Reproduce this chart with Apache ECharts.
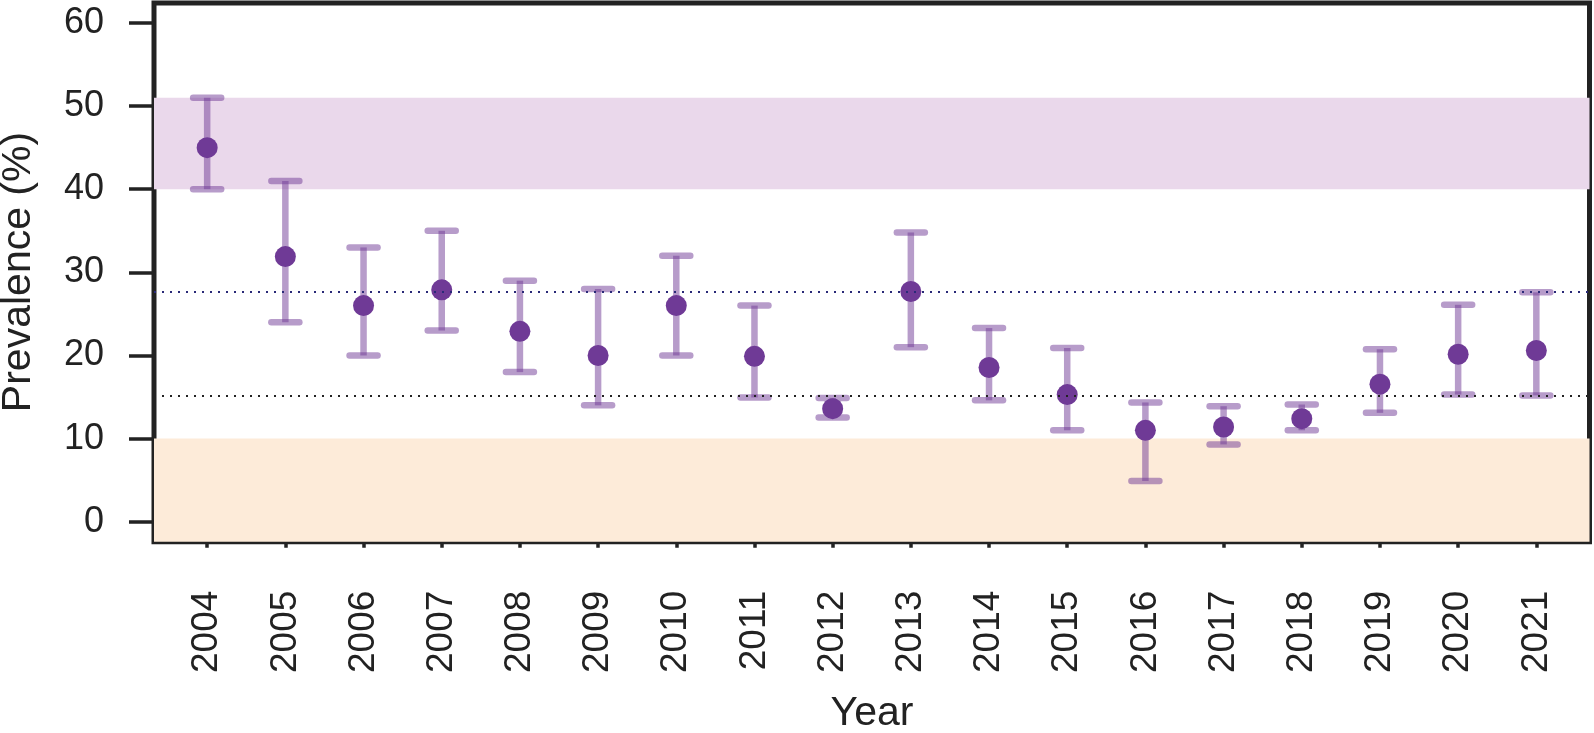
<!DOCTYPE html>
<html>
<head>
<meta charset="utf-8">
<script src="https://cdn.jsdelivr.net/npm/echarts@6/dist/echarts.min.js"></script>
<style>html,body{margin:0;padding:0;background:#fff;}#c{width:1594px;height:733px;}</style>
</head>
<body>
<div id="c"></div>
<script>
const years = [2004,2005,2006,2007,2008,2009,2010,2011,2012,2013,2014,2015,2016,2017,2018,2019,2020,2021];
const estimate = [45.0,31.9,26.0,27.9,22.9,20.0,26.0,19.9,13.6,27.7,18.55,15.3,11.0,11.4,12.4,16.55,20.15,20.6];
const lower = [40.0,24.0,20.0,23.0,18.0,14.0,20.0,14.95,12.55,21.0,14.6,11.0,4.9,9.3,11.0,13.1,15.3,15.2];
const upper = [51.0,41.0,33.0,35.0,29.0,28.0,32.0,26.0,14.9,34.8,23.3,20.9,14.35,13.9,14.1,20.75,26.1,27.6];
const yTicks = [0,10,20,30,40,50,60];
const highBand = [40, 51];
const lowBand = [-2.4, 10];
const refLines = [27.65, 15.15];

const chart = echarts.init(document.getElementById('c'));
const ebColor = 'rgba(112,58,150,0.5)';
const FONT = '"Liberation Sans", Arial, Helvetica, sans-serif';

chart.setOption({
  animation: false,
  grid: { left: 154, right: 4.5, top: 3, bottom: 191.3, show: true, borderColor: '#222', borderWidth: 5, backgroundColor: 'transparent' },
  xAxis: {
    type: 'value', min: 2003.32, max: 2021.68,
    splitLine: { show: false },
    axisLine: { show: false },
    axisTick: { show: true, length: 26, lineStyle: { color: '#222', width: 3.5 }, customValues: years },
    axisLabel: { show: true, rotate: 90, margin: 49, fontSize: 37, color: '#222', fontFamily: FONT, customValues: years, formatter: v => String(v) }
  },
  yAxis: {
    type: 'value', min: -2.4, max: 62.4,
    splitLine: { show: false },
    axisLine: { show: false },
    axisTick: { show: true, length: 25, lineStyle: { color: '#222', width: 3.5 }, customValues: yTicks },
    axisLabel: { show: true, margin: 50, fontSize: 36, color: '#222', fontFamily: FONT, customValues: yTicks }
  },
  graphic: [
    { type: 'text', x: 19, y: 272, rotation: Math.PI / 2, style: { text: 'Prevalence (%)', font: '41px ' + FONT, fill: '#222', align: 'center', verticalAlign: 'middle' } },
    { type: 'text', x: 872, y: 714, style: { text: 'Year', font: '41px ' + FONT, fill: '#222', align: 'center', verticalAlign: 'middle' } }
  ],
  series: [
    {
      type: 'line', data: [], silent: true,
      markArea: {
        silent: true,
        data: [
          [{ yAxis: highBand[0], itemStyle: { color: '#ead8eb' } }, { yAxis: highBand[1] }],
          [{ yAxis: lowBand[0], itemStyle: { color: '#fdebd9' } }, { yAxis: lowBand[1] }]
        ]
      },
      markLine: {
        silent: true, symbol: 'none', label: { show: false },
        data: [
          { yAxis: refLines[0], lineStyle: { color: '#2a2a78', width: 2, type: [2, 6] } },
          { yAxis: refLines[1], lineStyle: { color: '#222', width: 2, type: [2, 6] } }
        ]
      }
    },
    {
      type: 'custom', clip: false, z: 3,
      data: years.map((y, i) => [y, lower[i], upper[i]]),
      renderItem: function (params, api) {
        const x = api.value(0);
        const lo = api.coord([x, api.value(1)]);
        const hi = api.coord([x, api.value(2)]);
        const hw = 14;
        const st = { stroke: ebColor, lineWidth: 6.5, lineCap: 'round' };
        return {
          type: 'group',
          children: [
            { type: 'line', shape: { x1: lo[0], y1: lo[1], x2: hi[0], y2: hi[1] }, style: Object.assign({}, st, { lineCap: 'butt' }) },
            { type: 'line', shape: { x1: hi[0] - hw, y1: hi[1], x2: hi[0] + hw, y2: hi[1] }, style: st },
            { type: 'line', shape: { x1: lo[0] - hw, y1: lo[1], x2: lo[0] + hw, y2: lo[1] }, style: st }
          ]
        };
      }
    },
    {
      type: 'scatter', z: 4, symbol: 'circle', symbolSize: 21,
      itemStyle: { color: '#6f3a96', opacity: 1 },
      data: years.map((y, i) => [y, estimate[i]])
    }
  ]
});
</script>
</body>
</html>
